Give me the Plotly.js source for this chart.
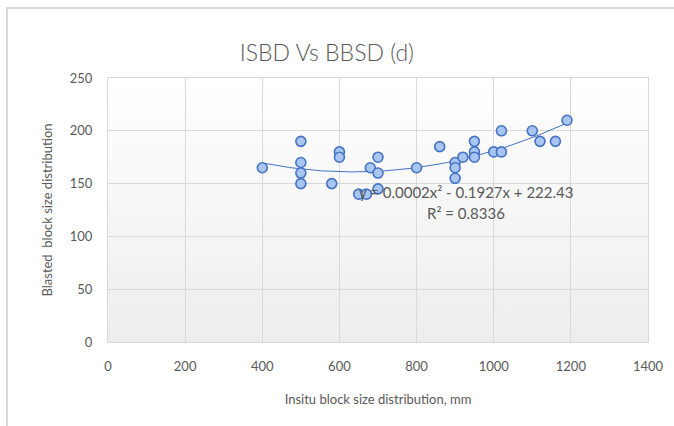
<!DOCTYPE html>
<html>
<head>
<meta charset="utf-8">
<script src="https://cdn.plot.ly/plotly-3.0.1.min.js"></script>
<style>
  html, body { margin: 0; padding: 0; background: #ffffff; }
  #wrap { position: relative; width: 674px; height: 426px; overflow: hidden; }
  #frame { position: absolute; left: 6px; top: 7px; width: 700px; height: 500px;
           border-left: 2px solid #D9D9D9; border-top: 2px solid #D9D9D9; pointer-events: none; }
  #chart { position: absolute; left: 0; top: 0; width: 674px; height: 426px; }
</style>
</head>
<body>
<div id="wrap">
  <div id="chart"></div>
  <div id="frame"></div>
</div>
<script>
// Insitu block size distribution (mm)
const insitu = [400, 500, 500, 500, 500, 580, 600, 600, 650, 670, 680, 700, 700, 700,
                800, 860, 900, 900, 900, 920, 950, 950, 950, 1000, 1020, 1020, 1100, 1120, 1160, 1190];
// Blasted block size distribution
const blasted = [165, 190, 170, 160, 150, 150, 180, 175, 140, 140, 165, 175, 160, 145,
                 165, 185, 170, 165, 155, 175, 190, 180, 175, 180, 200, 180, 200, 190, 190, 210];

const titleText = "ISBD Vs BBSD (d)";
const xTitle = "Insitu block size distribution, mm";
const yTitle = "Blasted  block size distribution";
const eqText = "y = 0.0002x\u00b2 - 0.1927x + 222.43";
const r2Text = "R\u00b2 = 0.8336";
const xTicks = [0, 200, 400, 600, 800, 1000, 1200, 1400];
const yTicks = [0, 50, 100, 150, 200, 250];

// Polynomial (order 2) least-squares trendline computed from the data
function polyfit2(xs, ys) {
  let n = xs.length, s = [0,0,0,0,0], t = [0,0,0];
  for (let i = 0; i < n; i++) {
    let x = xs[i], y = ys[i], p = 1;
    for (let k = 0; k < 5; k++) { s[k] += p; if (k < 3) t[k] += p * y; p *= x; }
  }
  const M = [[s[0], s[1], s[2], t[0]], [s[1], s[2], s[3], t[1]], [s[2], s[3], s[4], t[2]]];
  for (let i = 0; i < 3; i++) {
    let piv = i;
    for (let r = i + 1; r < 3; r++) if (Math.abs(M[r][i]) > Math.abs(M[piv][i])) piv = r;
    [M[i], M[piv]] = [M[piv], M[i]];
    for (let r = 0; r < 3; r++) {
      if (r === i) continue;
      const f = M[r][i] / M[i][i];
      for (let c = i; c < 4; c++) M[r][c] -= f * M[i][c];
    }
  }
  return [M[0][3] / M[0][0], M[1][3] / M[1][1], M[2][3] / M[2][2]];
}
const coef = polyfit2(insitu, blasted);
const xmin = Math.min(...insitu), xmax = Math.max(...insitu);
const trendX = [], trendY = [];
for (let i = 0; i <= 100; i++) {
  const x = xmin + (xmax - xmin) * i / 100;
  trendX.push(x);
  trendY.push(coef[0] + coef[1] * x + coef[2] * x * x);
}

const gray = '#595959';
const fontFam = 'Lato, "Open Sans", sans-serif';

const gradSvg = '<svg xmlns="http://www.w3.org/2000/svg" width="10" height="100" preserveAspectRatio="none">' +
  '<defs><linearGradient id="g" x1="0" y1="0" x2="0" y2="1">' +
  '<stop offset="0" stop-color="#FFFFFF"/><stop offset="1" stop-color="#EDEDED"/></linearGradient></defs>' +
  '<rect width="10" height="100" fill="url(#g)"/></svg>';
const gradUri = 'data:image/svg+xml;base64,' + btoa(gradSvg);

const traces = [
  {
    x: trendX, y: trendY, type: 'scatter', mode: 'lines',
    line: { color: '#4472C4', width: 1 }, hoverinfo: 'skip', showlegend: false
  },
  {
    x: insitu, y: blasted, type: 'scatter', mode: 'markers',
    marker: { symbol: 'circle', size: 10, color: '#A9C6F2', line: { color: '#4472C4', width: 1.6 } },
    showlegend: false
  }
];

const layout = {
  width: 674, height: 426,
  margin: { l: 108, r: 26, t: 78, b: 84 },
  paper_bgcolor: 'rgba(0,0,0,0)',
  plot_bgcolor: 'rgba(0,0,0,0)',
  font: { family: fontFam, color: gray, size: 13 },
  title: { text: titleText, font: { family: fontFam, size: 23, color: gray, weight: 300 },
           x: 0.485, xanchor: 'center', y: 0.875, yanchor: 'middle' },
  showlegend: false,
  images: [{ source: gradUri, xref: 'paper', yref: 'paper', x: 0, y: 1, sizex: 1, sizey: 1,
             sizing: 'stretch', xanchor: 'left', yanchor: 'top', layer: 'below' }],
  xaxis: {
    range: [0, 1400], tickvals: xTicks, ticktext: xTicks.map(String),
    showgrid: true, gridcolor: '#D9D9D9', gridwidth: 1, zeroline: false,
    showline: true, linecolor: '#D9D9D9', linewidth: 1, mirror: true,
    ticks: 'outside', ticklen: 12, tickcolor: 'rgba(0,0,0,0)',
    tickfont: { size: 13, color: gray, family: fontFam },
    title: { text: xTitle, font: { size: 13, color: gray, family: fontFam }, standoff: 22 },
    fixedrange: true
  },
  yaxis: {
    range: [0, 250], tickvals: yTicks, ticktext: yTicks.map(String),
    showgrid: true, gridcolor: '#D9D9D9', gridwidth: 1, zeroline: false,
    showline: true, linecolor: '#D9D9D9', linewidth: 1, mirror: true,
    ticks: 'outside', ticklen: 12, tickcolor: 'rgba(0,0,0,0)',
    tickfont: { size: 13, color: gray, family: fontFam },
    title: { text: yTitle, font: { size: 13, color: gray, family: fontFam }, standoff: 14 },
    fixedrange: true
  },
  annotations: [
    { x: 928, y: 142, xref: 'x', yref: 'y', text: eqText, showarrow: false,
      font: { size: 15, color: gray, family: fontFam }, xanchor: 'center', yanchor: 'middle' },
    { x: 928, y: 122, xref: 'x', yref: 'y', text: r2Text, showarrow: false,
      font: { size: 15, color: gray, family: fontFam }, xanchor: 'center', yanchor: 'middle' }
  ]
};

Plotly.newPlot('chart', traces, layout, { displayModeBar: false, staticPlot: true });
</script>
</body>
</html>
